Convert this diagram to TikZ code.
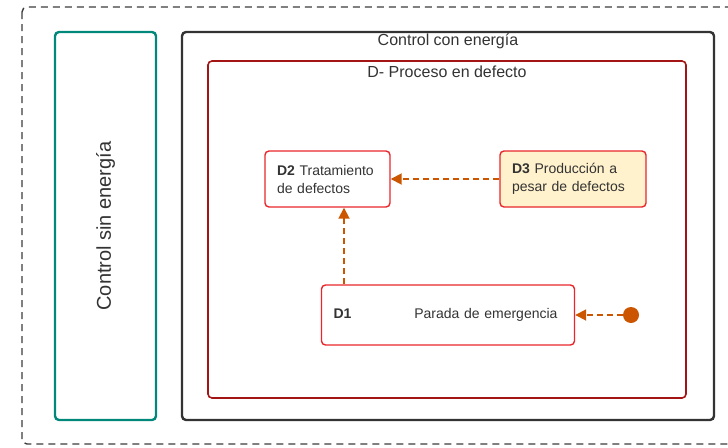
\documentclass[tikz,border=0pt]{standalone}
\usepackage{fontspec}
\setmainfont{Liberation Sans}
\usetikzlibrary{positioning,arrows.meta}
\definecolor{txtgray}{RGB}{51,51,51}
\definecolor{outergray}{RGB}{60,60,60}
\definecolor{tealbox}{RGB}{0,137,123}
\definecolor{darkframe}{RGB}{51,51,51}
\definecolor{defred}{RGB}{163,20,20}
\definecolor{dred}{RGB}{232,38,43}
\definecolor{flowc}{RGB}{204,85,0}
\definecolor{cream}{RGB}{255,242,204}
\begin{document}
\begin{tikzpicture}
        [x=1pt,y=-1pt,every node/.style={inner sep=0pt,text=txtgray},
        frame/.style={draw,rounded corners=4pt,minimum width=#1},
        dbox/.style={draw=dred,line width=1.4pt,rounded corners=4pt,align=left,
            inner xsep=12pt,font=\fontsize{14}{18}\selectfont},
        flow/.style={draw=flowc,line width=1.8pt,dash pattern=on 6pt off 4pt,
            -{Triangle[length=11pt,width=11pt]}}]
        \clip (0,0) rectangle (728,447);
        % outer dashed frame
        \draw[outergray,line width=1.4pt,dash pattern=on 7pt off 5pt,rounded corners=5pt]
            (22,7) rectangle (750,444);

        % containers
        \node[frame=101pt,draw=tealbox,line width=2.4pt,minimum height=388pt]  (sinE)   at (105.5,226) {};
        \node[frame=532pt,draw=darkframe,line width=2.4pt,minimum height=388pt] (conE)  at (448,226)   {};
        \node[frame=478pt,draw=defred,line width=1.6pt,minimum height=337pt]   (defec)  at (447,229.5) {};

        \node[rotate=90,font=\fontsize{20}{24}\selectfont] (sinEt) at (sinE.center) {Control sin energía};
        \node[below=3pt of conE.north,font=\fontsize{16}{19}\selectfont]   (conEt)  {Control con energía};
        \node[below=6pt of defec.north,font=\fontsize{16}{19}\selectfont]  (defect) {D- Proceso en defecto};

        % D boxes
        \node[dbox,text width=101pt,minimum height=56pt]  (D2) at (327.5,179)
            {\textbf{D2} Tratamiento\\de defectos};
        \node[dbox,fill=cream,text width=122pt,minimum height=56pt] (D3) at (573,179)
            {\textbf{D3} Producción a\\pesar de defectos};
        \node[dbox,text width=229pt,minimum height=60pt]  (D1) at (448,315)
            {\textbf{D1}\hfill Parada de emergencia\hspace*{5pt}};

        \node[circle,fill=flowc,minimum size=16pt] (inicio) at (631,315) {};
        \coordinate (lane) at (344,0);

        \draw[flow] (D3.west) -- (D2.east);
        \draw[flow] (D1.north -| lane) -- (D2.south -| lane);
        \draw[flow] (inicio) -- (D1.east);
    \end{tikzpicture}
\end{document}
